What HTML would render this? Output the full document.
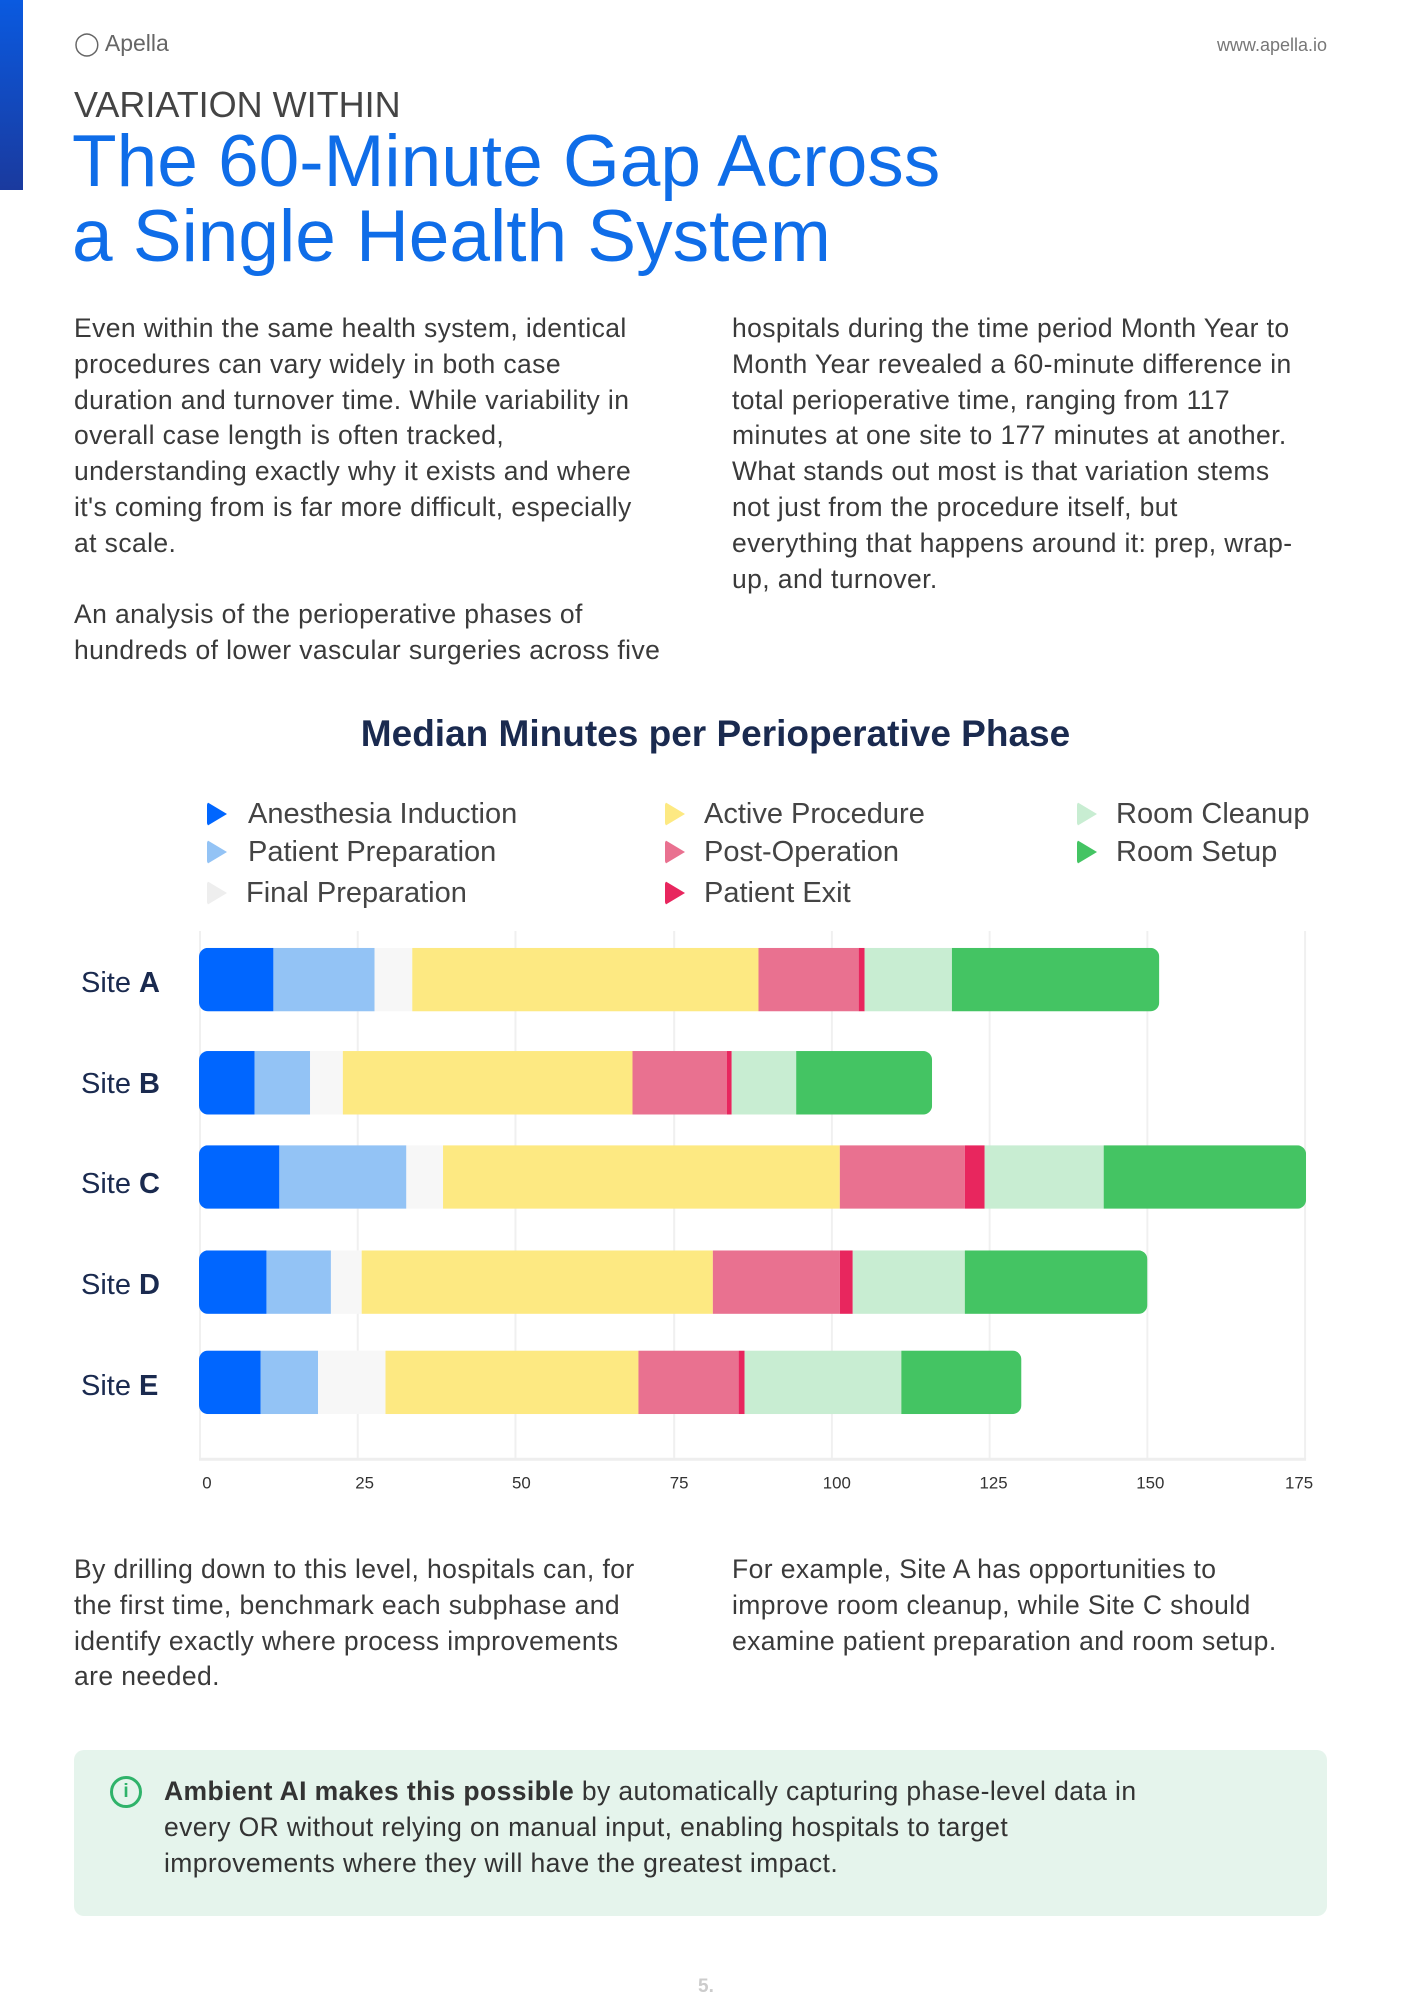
<!DOCTYPE html>
<html><head><meta charset="utf-8"><style>
*{margin:0;padding:0;box-sizing:border-box}
body{width:1413px;height:1999px;background:#fff;position:relative;overflow:hidden;font-family:"Liberation Sans",sans-serif;color:#3a3a3a}
.a{position:absolute;white-space:nowrap}
.body{font-size:26.5px;line-height:35.8px;color:#3a3a3a;letter-spacing:0.4px}
.leg{font-size:29px;color:#444}
.tri{position:absolute;width:0;height:0;border-top:12px solid transparent;border-bottom:12px solid transparent;border-left:20px solid;border-radius:3px}
.bar{position:absolute;height:64px;display:flex;border-radius:9px;overflow:hidden}
.bar div{height:100%}
.grid{position:absolute;top:935px;height:532px;width:2px;background:#f0f0f0}
.tick{position:absolute;top:1482px;font-size:17px;color:#333;transform:translateX(-50%)}
.site{position:absolute;left:81px;font-size:29px;color:#1a2a4f}
.site b{font-weight:bold}
#chart{position:absolute;left:0;top:0;width:1413px;height:1999px;transform-origin:202px 935px;transform:translate(-3px,-4px) scale(0.992)}
</style></head><body>
<div class="a" style="left:0;top:0;width:23px;height:190px;background:linear-gradient(#0a5ae0,#1a3a9e)"></div>
<div class="a" style="left:74px;top:30px;font-size:23px;color:#666">◯ Apella</div>
<div class="a" style="right:86px;top:35px;font-size:18px;color:#777">www.apella.io</div>
<div class="a" style="left:74px;top:84px;font-size:36px;color:#444">VARIATION WITHIN</div>
<div class="a" style="left:72px;top:124px;font-size:73px;line-height:75px;color:#0f6de8">The 60-Minute Gap Across<br>a Single Health System</div>
<div class="a body" style="left:74px;top:311px">Even within the same health system, identical<br>procedures can vary widely in both case<br>duration and turnover time. While variability in<br>overall case length is often tracked,<br>understanding exactly why it exists and where<br>it's coming from is far more difficult, especially<br>at scale.<br><br>An analysis of the perioperative phases of<br>hundreds of lower vascular surgeries across five</div>
<div class="a body" style="left:732px;top:311px">hospitals during the time period Month Year to<br>Month Year revealed a 60-minute difference in<br>total perioperative time, ranging from 117<br>minutes at one site to 177 minutes at another.<br>What stands out most is that variation stems<br>not just from the procedure itself, but<br>everything that happens around it: prep, wrap-<br>up, and turnover.</div>
<div class="a" style="left:0;width:1413px;text-align:center;top:713px;font-size:37px;font-weight:bold;color:#1a2a4f;padding-left:18px">Median Minutes per Perioperative Phase</div>

<div class="tri" style="left:207px;top:802px;border-left-color:#0066ff"></div><div class="a leg" style="left:248px;top:798px">Anesthesia Induction</div>
<div class="tri" style="left:207px;top:840px;border-left-color:#93c3f5"></div><div class="a leg" style="left:248px;top:836px">Patient Preparation</div>
<div class="tri" style="left:207px;top:881px;border-left-color:#eeeeee"></div><div class="a leg" style="left:246px;top:877px">Final Preparation</div>
<div class="tri" style="left:665px;top:802px;border-left-color:#fde982"></div><div class="a leg" style="left:704px;top:798px">Active Procedure</div>
<div class="tri" style="left:665px;top:840px;border-left-color:#e97190"></div><div class="a leg" style="left:704px;top:836px">Post-Operation</div>
<div class="tri" style="left:665px;top:881px;border-left-color:#e8265e"></div><div class="a leg" style="left:704px;top:877px">Patient Exit</div>
<div class="tri" style="left:1077px;top:802px;border-left-color:#c8edd2"></div><div class="a leg" style="left:1116px;top:798px">Room Cleanup</div>
<div class="tri" style="left:1077px;top:840px;border-left-color:#44c463"></div><div class="a leg" style="left:1116px;top:836px">Room Setup</div>

<div id="chart">
<div class="grid" style="left:202px"></div><div class="grid" style="left:361px"></div><div class="grid" style="left:520px"></div><div class="grid" style="left:680px"></div><div class="grid" style="left:839px"></div><div class="grid" style="left:998px"></div><div class="grid" style="left:1157px"></div><div class="grid" style="left:1316px"></div>
<div class="a" style="left:202px;top:1466px;width:1116px;height:3px;background:#eee"></div>
<div class="tick" style="left:210px">0</div><div class="tick" style="left:369px">25</div><div class="tick" style="left:527px">50</div><div class="tick" style="left:686px">75</div><div class="tick" style="left:845px">100</div><div class="tick" style="left:1003px">125</div><div class="tick" style="left:1161px">150</div><div class="tick" style="left:1311px">175</div>

<div class="bar" style="left:202px;top:952px;width:968px">
<div style="width:75px;background:#0066ff"></div><div style="width:102px;background:#93c3f5"></div><div style="width:38px;background:#f7f7f7"></div><div style="width:349px;background:#fde982"></div><div style="width:101px;background:#e97190"></div><div style="width:6px;background:#e8265e"></div><div style="width:88px;background:#c8edd2"></div><div style="flex:1;background:#44c463"></div></div>
<div class="bar" style="left:202px;top:1056px;width:739px">
<div style="width:56px;background:#0066ff"></div><div style="width:56px;background:#93c3f5"></div><div style="width:33px;background:#f7f7f7"></div><div style="width:292px;background:#fde982"></div><div style="width:95px;background:#e97190"></div><div style="width:5px;background:#e8265e"></div><div style="width:65px;background:#c8edd2"></div><div style="flex:1;background:#44c463"></div></div>
<div class="bar" style="left:202px;top:1151px;width:1116px">
<div style="width:81px;background:#0066ff"></div><div style="width:128px;background:#93c3f5"></div><div style="width:37px;background:#f7f7f7"></div><div style="width:400px;background:#fde982"></div><div style="width:126px;background:#e97190"></div><div style="width:20px;background:#e8265e"></div><div style="width:120px;background:#c8edd2"></div><div style="flex:1;background:#44c463"></div></div>
<div class="bar" style="left:202px;top:1257px;width:956px">
<div style="width:68px;background:#0066ff"></div><div style="width:65px;background:#93c3f5"></div><div style="width:31px;background:#f7f7f7"></div><div style="width:354px;background:#fde982"></div><div style="width:128px;background:#e97190"></div><div style="width:13px;background:#e8265e"></div><div style="width:113px;background:#c8edd2"></div><div style="flex:1;background:#44c463"></div></div>
<div class="bar" style="left:202px;top:1358px;width:829px">
<div style="width:62px;background:#0066ff"></div><div style="width:58px;background:#93c3f5"></div><div style="width:68px;background:#f7f7f7"></div><div style="width:255px;background:#fde982"></div><div style="width:101px;background:#e97190"></div><div style="width:6px;background:#e8265e"></div><div style="width:158px;background:#c8edd2"></div><div style="flex:1;background:#44c463"></div></div>
</div>

<div class="site" style="top:967px">Site <b>A</b></div>
<div class="site" style="top:1068px">Site <b>B</b></div>
<div class="site" style="top:1168px">Site <b>C</b></div>
<div class="site" style="top:1269px">Site <b>D</b></div>
<div class="site" style="top:1370px">Site <b>E</b></div>

<div class="a body" style="left:74px;top:1552px">By drilling down to this level, hospitals can, for<br>the first time, benchmark each subphase and<br>identify exactly where process improvements<br>are needed.</div>
<div class="a body" style="left:732px;top:1552px">For example, Site A has opportunities to<br>improve room cleanup, while Site C should<br>examine patient preparation and room setup.</div>

<div class="a" style="left:74px;top:1750px;width:1253px;height:166px;background:#e5f4ec;border-radius:10px"></div>
<div class="a" style="left:110px;top:1776px;width:32px;height:32px;border:3px solid #2fb36a;border-radius:50%;color:#2fb36a;font-size:19px;font-weight:bold;text-align:center;line-height:26px">i</div>
<div class="a body" style="left:164px;top:1774px;color:#333">
<b>Ambient AI makes this possible</b> by automatically capturing phase-level data in<br>every OR without relying on manual input, enabling hospitals to target<br>improvements where they will have the greatest impact.</div>
<div class="a" style="left:698px;top:1976px;font-size:19px;color:#ccc;font-weight:bold">5.</div>
</body></html>
